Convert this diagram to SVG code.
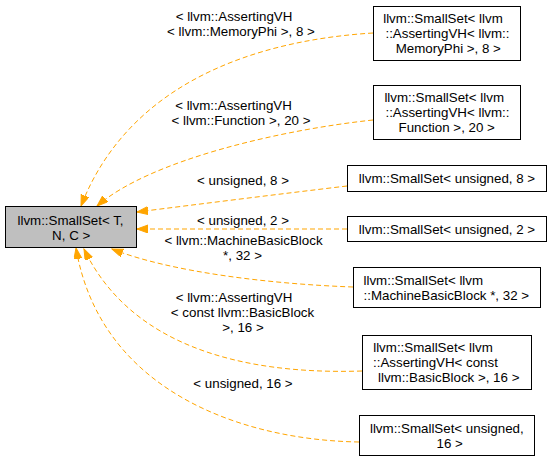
<svg xmlns="http://www.w3.org/2000/svg" width="552" height="462" viewBox="0 0 552 462">
<style>
text{font-family:"Liberation Sans",Arial,sans-serif;font-size:13.33px;fill:#000;text-anchor:middle}
.n{fill:#fff;stroke:#000;stroke-width:1}
.b{fill:#bfbfbf;stroke:#000;stroke-width:1}
.e{fill:none;stroke:#ffa500;stroke-width:1;stroke-dasharray:5,3;marker-end:url(#ah)}
</style>
<defs>
<marker id="ah" markerUnits="userSpaceOnUse" markerWidth="12" markerHeight="9" refX="11" refY="4" orient="auto">
<path d="M0,0 L11,4 L0,8 z" fill="#ffa500" stroke="#ffa500" stroke-width="1"/>
</marker>
</defs>
<g id="connectors">
<path class="e" d="M373,33 C260,40 130,80 81,206"/>
<path class="e" d="M373,120 C280,130 150,160 97,206"/>
<path class="e" d="M347,186 C280,194 200,204 137,212"/>
<path class="e" d="M347,229 L137,229"/>
<path class="e" d="M353,287 C270,284 170,272 112,249"/>
<path class="e" d="M362,371 C240,375 130,345 84,249"/>
<path class="e" d="M359,442 C240,440 100,390 76,248"/>
</g>
<g id="labels">
<text x="234" y="20.5">&lt; llvm::AssertingVH</text>
<text x="241" y="35.5">&lt; llvm::MemoryPhi &gt;, 8 &gt;</text>
<text x="233.5" y="109.5">&lt; llvm::AssertingVH</text>
<text x="241" y="124.5">&lt; llvm::Function &gt;, 20 &gt;</text>
<text x="243" y="185">&lt; unsigned, 8 &gt;</text>
<text x="243" y="224.5">&lt; unsigned, 2 &gt;</text>
<text x="243.5" y="245">&lt; llvm::MachineBasicBlock</text>
<text x="242.5" y="260">*, 32 &gt;</text>
<text x="234" y="302">&lt; llvm::AssertingVH</text>
<text x="242.5" y="317">&lt; const llvm::BasicBlock</text>
<text x="243" y="332">&gt;, 16 &gt;</text>
<text x="243" y="387.5">&lt; unsigned, 16 &gt;</text>
</g>
<g id="base">
<rect class="b" x="5.5" y="206.5" width="131" height="41"/>
<text x="70.5" y="224.8">llvm::SmallSet&lt; T,</text>
<text x="71.2" y="239.8">N, C &gt;</text>
</g>
<g id="n1">
<rect class="n" x="373.5" y="6.5" width="147" height="54"/>
<text x="443" y="23">llvm::SmallSet&lt; llvm</text>
<text x="447.5" y="38">::AssertingVH&lt; llvm::</text>
<text x="448.3" y="53">MemoryPhi &gt;, 8 &gt;</text>
</g>
<g id="n2">
<rect class="n" x="373.5" y="85.5" width="147" height="54"/>
<text x="444.2" y="102.2">llvm::SmallSet&lt; llvm</text>
<text x="447.5" y="117.2">::AssertingVH&lt; llvm::</text>
<text x="446.7" y="132.2">Function &gt;, 20 &gt;</text>
</g>
<g id="n3">
<rect class="n" x="347.5" y="165.5" width="199" height="26"/>
<text x="447" y="182.8">llvm::SmallSet&lt; unsigned, 8 &gt;</text>
</g>
<g id="n4">
<rect class="n" x="347.5" y="216.5" width="199" height="25"/>
<text x="447" y="233.7">llvm::SmallSet&lt; unsigned, 2 &gt;</text>
</g>
<g id="n5">
<rect class="n" x="353.5" y="267.5" width="187" height="40"/>
<text x="423.3" y="284.6">llvm::SmallSet&lt; llvm</text>
<text x="446.3" y="299.6">::MachineBasicBlock *, 32 &gt;</text>
</g>
<g id="n6">
<rect class="n" x="362.5" y="335.5" width="169" height="54"/>
<text x="433" y="352">llvm::SmallSet&lt; llvm</text>
<text x="435.5" y="367">::AssertingVH&lt; const</text>
<text x="448.7" y="382">llvm::BasicBlock &gt;, 16 &gt;</text>
</g>
<g id="n7">
<rect class="n" x="359.5" y="415.5" width="175" height="40"/>
<text x="446.8" y="432.8">llvm::SmallSet&lt; unsigned,</text>
<text x="449.7" y="447.8">16 &gt;</text>
</g>
</svg>
